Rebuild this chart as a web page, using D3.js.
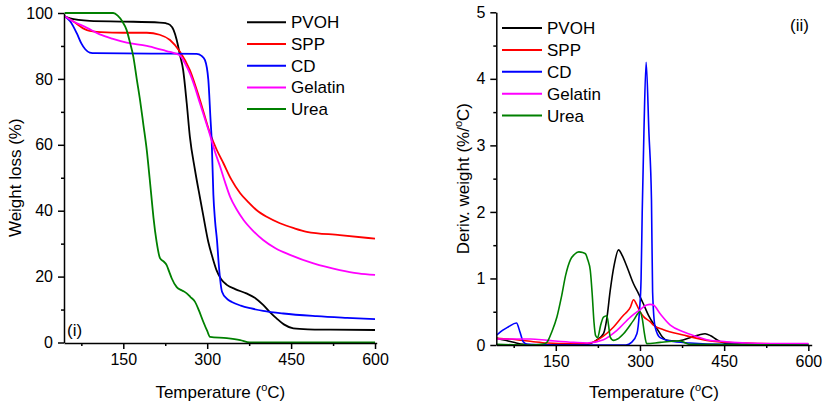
<!DOCTYPE html>
<html><head><meta charset="utf-8">
<script src="https://cdn.jsdelivr.net/npm/d3@7"></script>
<style>
body{margin:0;background:#fff}
svg text{font-family:"Liberation Sans",Arial,sans-serif;fill:#000}
</style>
</head><body>
<svg id="c" width="824" height="408"></svg>
<script>
// ---- data ----
const seriesNames = ["PVOH", "SPP", "CD", "Gelatin", "Urea"];
const seriesColors = ["#000000", "#ff0000", "#0000ff", "#ff00ff", "#008000"];
const xMajorTicks = [150, 300, 450, 600];
const xMinorTicks = [75, 225, 375, 525];
const tgaMajorTicks = [0, 20, 40, 60, 80, 100];
const tgaMinorTicks = [10, 30, 50, 70, 90];
const dtgMajorTicks = [0, 1, 2, 3, 4, 5];
const dtgMinorTicks = [0.5, 1.5, 2.5, 3.5, 4.5];

// (i) weight loss (%) vs temperature (°C)
const pvohTGA = [[45,99],[55,98.4],[70,97.9],[90,97.6],[150,97.4],[215,97.1],[226,96.9],[233.5,96.4],[240,94.8],[245.5,91.8],[251,87.5],[257,82.7],[263.4,72.6],[269,62.5],[278,52.5],[287,44],[293,38.5],[302,30.5],[310,25.5],[317,21.8],[325,19.2],[335,17.5],[350,16.2],[370,14.9],[385,13.6],[400,11.4],[412,9.2],[424,7.3],[437,5.5],[454,4.3],[480,4],[520,3.9],[600,3.8]];
const sppTGA = [[45,99],[60,97.5],[85,94.8],[110,94.2],[150,94],[192,94],[215,93.4],[233.5,91.8],[251,88.3],[269,82.7],[287,73.6],[305,63.5],[317,58.5],[329,54.4],[343,49.5],[359,45.3],[374,42.5],[388,40.2],[408,38],[430,36.2],[455,34.7],[478,33.6],[537,32.6],[600,31.5]];
const cdTGA = [[45,99],[55,97.5],[67,93.8],[75,90.8],[82,89],[90,88],[100,87.8],[200,87.7],[281,87.6],[290,87],[296,85.7],[302,79.7],[306,67.5],[308,61.5],[311,45],[314,37],[317.5,31],[321,23],[326.5,15.4],[335,13.3],[344,12.3],[360,11.2],[377,10.4],[400,9.6],[436,8.8],[496,8.0],[550,7.5],[600,7.1]];
const gelatinTGA = [[45,99],[60,97.5],[85,95.5],[108,93.5],[130,92.2],[156,91],[192,90],[222,88.7],[233.5,88.2],[251,87.2],[260,84.8],[269,81.7],[278,77.5],[287,72.6],[296,67.8],[305,63],[314,57.8],[323,53.4],[332,48.6],[341,44.2],[353,40.3],[365,37.2],[382,33.9],[400,31.1],[422,28.6],[448,26.6],[490,24],[537,22],[570,21],[600,20.5]];
const ureaTGA = [[45,100],[100,100],[132,100],[140,99.2],[148,97.5],[156,94.8],[162,91],[168,86.7],[174,80],[180,73.5],[186,66],[192,58.3],[197,50],[201,43],[204,37.8],[209.5,30.6],[215.6,25.6],[222,24.6],[227.5,23.5],[232,21.5],[236.5,19.5],[245.5,16.8],[255,15.8],[263.4,14.9],[270,13.8],[278,12.4],[285,9.8],[293,6.3],[300,3.5],[305,1.7],[335,1.3],[359,0.7],[376,0],[600,0]];

// (ii) derivative weight (%/°C) vs temperature (°C)
const pvohDTG = [[45,0.1],[60,0.07],[75,0.04],[93,0.01],[120,0],[205,0.01],[222,0.07],[235,0.17],[241,0.4],[247,0.82],[254,1.2],[261.8,1.43],[268,1.35],[278,1.15],[288.5,0.92],[297,0.78],[306,0.62],[315,0.45],[324,0.32],[330,0.25],[340,0.12],[348,0.07],[365,0.06],[389,0.11],[405,0.15],[416,0.17],[426,0.14],[437,0.08],[454,0.02],[480,0.01],[600,0.01]];
const sppDTG = [[45,0.1],[80,0.08],[110,0.05],[135,0.03],[175,0.02],[205,0.02],[229,0.1],[253,0.27],[271,0.45],[277,0.5],[283,0.57],[288.5,0.68],[294.5,0.6],[300,0.5],[306,0.43],[318,0.35],[324,0.3],[342,0.23],[377,0.15],[419,0.07],[454,0.04],[500,0.025],[600,0.01]];
const cdDTG = [[45,0.15],[55,0.22],[65,0.27],[80,0.33],[86,0.2],[92,0.05],[100,0.01],[150,0],[275,0],[285,0.04],[294.5,0.17],[299,0.5],[302,1.0],[304,2.0],[307,3.18],[311,4.25],[316,3.18],[320.5,2.18],[322.5,0.8],[327,0.27],[336,0.11],[354,0.06],[389,0.03],[450,0.01],[600,0.01]];
const gelatinDTG = [[45,0.09],[105,0.09],[135,0.07],[182,0.04],[206,0.03],[235,0.08],[259,0.22],[283,0.42],[300,0.53],[312,0.6],[318,0.61],[324,0.6],[336,0.47],[354,0.3],[377,0.2],[400,0.13],[419,0.08],[454,0.05],[490,0.03],[550,0.02],[600,0.02]];
const ureaDTG = [[45,0.01],[100,0],[130,0.02],[135,0.05],[143,0.2],[152,0.42],[160,0.72],[167.6,1.05],[176,1.28],[183,1.36],[191,1.4],[198,1.39],[203,1.37],[207,1.28],[211.5,1.12],[215,0.75],[218,0.35],[221,0.14],[224.5,0.11],[230,0.3],[235,0.42],[241,0.44],[244,0.3],[247,0.12],[253,0.07],[260,0.09],[270.7,0.17],[288.5,0.37],[300,0.5],[304,0.4],[308,0.17],[312,0.02],[336,0.04],[371.5,0.06],[389,0.01],[600,0]];

const tgaSeries = [pvohTGA, sppTGA, cdTGA, gelatinTGA, ureaTGA];
const dtgSeries = [pvohDTG, sppDTG, cdDTG, gelatinDTG, ureaDTG];

// ---- drawing ----
const svg = d3.select("#c");
const FONT = '"Liberation Sans", Arial, sans-serif';

function panel(cfg) {
  const x = d3.scaleLinear().domain(cfg.xDomain).range(cfg.xRange);
  const y = d3.scaleLinear().domain(cfg.yDomain).range(cfg.yRange);
  const g = svg.append("g");
  const line = d3.line().x(d => x(d[0])).y(d => y(d[1])).curve(d3.curveMonotoneX);

  cfg.series.forEach((s, i) => {
    g.append("path").datum(s).attr("d", line)
      .attr("fill", "none").attr("stroke", seriesColors[i])
      .attr("stroke-width", cfg.lw).attr("stroke-linejoin", "round");
  });

  const axisY = cfg.xAxisY;
  const xa = g.append("g").attr("transform", `translate(0,${axisY})`);
  xa.call(d3.axisBottom(x).tickValues(xMajorTicks).tickSize(6).tickSizeOuter(0).tickPadding(5).tickFormat(d3.format("d")));
  const xm = g.append("g").attr("transform", `translate(0,${axisY})`);
  xm.call(d3.axisBottom(x).tickValues(xMinorTicks).tickSize(3).tickSizeOuter(0).tickFormat(""));
  xm.select(".domain").remove();

  const ya = g.append("g").attr("transform", `translate(${cfg.xRange[0]},0)`);
  ya.call(d3.axisLeft(y).tickValues(cfg.yMajor).tickSize(6).tickSizeOuter(0).tickPadding(5).tickFormat(d3.format("d")));
  const ym = g.append("g").attr("transform", `translate(${cfg.xRange[0]},0)`);
  ym.call(d3.axisLeft(y).tickValues(cfg.yMinor).tickSize(3).tickSizeOuter(0).tickFormat(""));
  ym.select(".domain").remove();

  g.selectAll(".domain, .tick line").attr("stroke", "#000").attr("stroke-width", 1.5);
  g.selectAll(".tick text").attr("font-family", FONT).attr("font-size", 16).attr("fill", "#000");

  // x title
  const xt = g.append("text").attr("x", (cfg.xRange[0] + cfg.xRange[1]) / 2).attr("y", 398)
    .attr("text-anchor", "middle").attr("font-size", 17);
  xt.append("tspan").text("Temperature (");
  xt.append("tspan").attr("font-size", 11).attr("dy", -7).text("o");
  xt.append("tspan").attr("dy", 7).text("C)");

  // y title
  const yt = g.append("text")
    .attr("transform", `translate(${cfg.yTitleX},${(cfg.yRange[0] + cfg.yRange[1]) / 2}) rotate(-90)`)
    .attr("text-anchor", "middle").attr("font-size", 17);
  cfg.yTitle(yt);

  // legend
  seriesNames.forEach((n, i) => {
    const ly = cfg.legY + i * cfg.legStep;
    g.append("line").attr("x1", cfg.legX).attr("x2", cfg.legX + cfg.legLen)
      .attr("y1", ly).attr("y2", ly).attr("stroke", seriesColors[i]).attr("stroke-width", 2);
    g.append("text").attr("x", cfg.legX + cfg.legLen + 5).attr("y", ly + 6)
      .attr("font-size", 17).text(n);
  });

  g.append("text").attr("x", cfg.tagX).attr("y", cfg.tagY).attr("text-anchor", cfg.tagAnchor)
    .attr("font-size", 17).text(cfg.tag);
}

panel({
  xDomain: [44, 603], xRange: [64, 376.7],
  yDomain: [0, 100], yRange: [342.5, 13],
  xAxisY: 343,
  yMajor: tgaMajorTicks, yMinor: tgaMinorTicks,
  series: tgaSeries, lw: 1.8,
  yTitleX: 21,
  yTitle: t => t.text("Weight loss (%)"),
  legX: 247, legLen: 39, legY: 22.3, legStep: 21.7,
  tag: "(i)", tagX: 67, tagY: 336, tagAnchor: "start"
});

panel({
  xDomain: [44, 606], xRange: [496.3, 811.7],
  yDomain: [0, 5], yRange: [345, 12.3],
  xAxisY: 345,
  yMajor: dtgMajorTicks, yMinor: dtgMinorTicks,
  series: dtgSeries, lw: 1.6,
  yTitleX: 469,
  yTitle: t => {
    t.append("tspan").text("Deriv. weight (%/");
    t.append("tspan").attr("font-size", 11).attr("dy", -7).text("o");
    t.append("tspan").attr("dy", 7).text("C)");
  },
  legX: 502, legLen: 40, legY: 28, legStep: 21.9,
  tag: "(ii)", tagX: 809, tagY: 31, tagAnchor: "end"
});
</script>
</body></html>
